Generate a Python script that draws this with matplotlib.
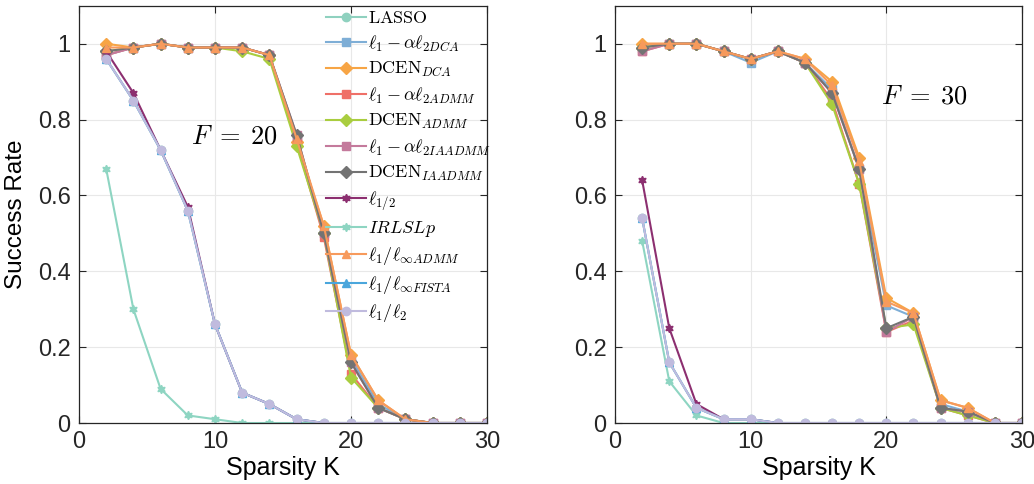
import matplotlib
matplotlib.use('Agg')
import matplotlib.pyplot as plt
import numpy as np

plt.rcParams['font.family'] = ['Liberation Sans', 'DejaVu Sans']
plt.rcParams['mathtext.fontset'] = 'cm'

K = np.arange(2, 31, 2)

labels = [r'$\mathrm{LASSO}$', r'$\ell_1-\alpha\ell_{2DCA}$', r'$\mathrm{DCEN}_{DCA}$',
          r'$\ell_1-\alpha\ell_{2ADMM}$', r'$\mathrm{DCEN}_{ADMM}$', r'$\ell_1-\alpha\ell_{2IAADMM}$',
          r'$\mathrm{DCEN}_{IAADMM}$', r'$\ell_{1/2}$', r'$IRLSLp$',
          r'$\ell_1/\ell_{\infty ADMM}$', r'$\ell_1/\ell_{\infty FISTA}$', r'$\ell_1/\ell_2$']
colors = ['#8fd1bf', '#7eaed6', '#f7a545', '#ef7068', '#a9cd3f', '#c47a9c',
          '#737373', '#8c2f70', '#8ed5c2', '#f79a5c', '#4aa6dc', '#c0bbde']
markers = ['o', 's', 'D', 's', 'D', 's', 'D', (6, 1, 0), (6, 1, 0), '^', '^', 'o']

# F = 20
f20_lasso = [0.96, 0.85, 0.72, 0.56, 0.26, 0.08, 0.05, 0.01, 0, 0, 0, 0, 0, 0, 0]
f20_l1l2dca = [0.97, 0.99, 1.0, 0.99, 0.99, 0.99, 0.97, 0.75, 0.50, 0.17, 0.05, 0.01, 0, 0, 0]
f20_dcendca = [1.0, 0.99, 1.0, 0.99, 0.99, 0.99, 0.97, 0.74, 0.52, 0.18, 0.06, 0.01, 0, 0, 0]
f20_l1l2admm = [0.97, 0.99, 1.0, 0.99, 0.99, 0.99, 0.97, 0.74, 0.49, 0.13, 0.04, 0.01, 0, 0, 0]
f20_dcenadmm = [0.98, 0.99, 1.0, 0.99, 0.99, 0.98, 0.96, 0.73, 0.50, 0.12, 0.04, 0.01, 0, 0, 0]
f20_l1l2iaadmm = [0.97, 0.99, 1.0, 0.99, 0.99, 0.99, 0.97, 0.76, 0.50, 0.16, 0.04, 0.01, 0, 0, 0]
f20_dceniaadmm = [0.98, 0.99, 1.0, 0.99, 0.99, 0.99, 0.97, 0.76, 0.50, 0.16, 0.04, 0.01, 0, 0, 0]
f20_lhalf = [0.98, 0.87, 0.72, 0.57, 0.26, 0.08, 0.05, 0.01, 0, 0, 0, 0, 0, 0, 0]
f20_irlslp = [0.67, 0.30, 0.09, 0.02, 0.01, 0, 0, 0, 0, 0, 0, 0, 0, 0, 0]
f20_linfadmm = [0.99, 0.99, 1.0, 0.99, 0.99, 0.99, 0.97, 0.75, 0.52, 0.18, 0.06, 0.01, 0, 0, 0]
f20_linffista = [0.96, 0.85, 0.72, 0.56, 0.26, 0.08, 0.05, 0.01, 0, 0, 0, 0, 0, 0, 0]
f20_l1overl2 = [0.96, 0.85, 0.72, 0.56, 0.26, 0.08, 0.05, 0.01, 0, 0, 0, 0, 0, 0, 0]

# F = 30
f30_lasso = [0.54, 0.16, 0.04, 0.01, 0.01, 0, 0, 0, 0, 0, 0, 0, 0, 0, 0]
f30_l1l2dca = [0.99, 1.0, 1.0, 0.98, 0.95, 0.98, 0.95, 0.88, 0.67, 0.31, 0.28, 0.05, 0.03, 0, 0]
f30_dcendca = [1.0, 1.0, 1.0, 0.98, 0.96, 0.98, 0.96, 0.90, 0.70, 0.33, 0.29, 0.06, 0.04, 0, 0]
f30_l1l2admm = [0.98, 1.0, 1.0, 0.98, 0.96, 0.98, 0.95, 0.85, 0.63, 0.24, 0.27, 0.04, 0.02, 0, 0]
f30_dcenadmm = [0.99, 1.0, 1.0, 0.98, 0.96, 0.98, 0.95, 0.84, 0.63, 0.25, 0.26, 0.04, 0.02, 0, 0]
f30_l1l2iaadmm = [0.98, 1.0, 1.0, 0.98, 0.96, 0.98, 0.95, 0.87, 0.67, 0.24, 0.28, 0.04, 0.03, 0, 0]
f30_dceniaadmm = [0.99, 1.0, 1.0, 0.98, 0.96, 0.98, 0.95, 0.87, 0.67, 0.25, 0.28, 0.04, 0.03, 0, 0]
f30_lhalf = [0.64, 0.25, 0.05, 0.01, 0.01, 0, 0, 0, 0, 0, 0, 0, 0, 0, 0]
f30_irlslp = [0.48, 0.11, 0.02, 0, 0, 0, 0, 0, 0, 0, 0, 0, 0, 0, 0]
f30_linfadmm = [1.0, 1.0, 1.0, 0.98, 0.96, 0.98, 0.96, 0.89, 0.69, 0.32, 0.29, 0.06, 0.04, 0, 0]
f30_linffista = [0.54, 0.16, 0.04, 0.01, 0.01, 0, 0, 0, 0, 0, 0, 0, 0, 0, 0]
f30_l1overl2 = [0.54, 0.16, 0.04, 0.01, 0.01, 0, 0, 0, 0, 0, 0, 0, 0, 0, 0]

f20 = [f20_lasso, f20_l1l2dca, f20_dcendca, f20_l1l2admm, f20_dcenadmm, f20_l1l2iaadmm,
       f20_dceniaadmm, f20_lhalf, f20_irlslp, f20_linfadmm, f20_linffista, f20_l1overl2]
f30 = [f30_lasso, f30_l1l2dca, f30_dcendca, f30_l1l2admm, f30_dcenadmm, f30_l1l2iaadmm,
       f30_dceniaadmm, f30_lhalf, f30_irlslp, f30_linfadmm, f30_linffista, f30_l1overl2]

fig = plt.figure(figsize=(10.34, 4.84), dpi=100)
ax1 = fig.add_axes([0.0764, 0.126, 0.3946, 0.862])
ax2 = fig.add_axes([0.5948, 0.126, 0.3936, 0.862])


def draw_panel(ax, data, title_xy, title):
    handles = []
    for i, y in enumerate(data):
        h, = ax.plot(K, y, color=colors[i], marker=markers[i], markersize=6,
                     markerfacecolor=colors[i], markeredgecolor=colors[i],
                     linewidth=1.5, label=labels[i], zorder=2 + i * 0.01)
        handles.append(h)
    ax.set_xlim(0, 30)
    ax.set_ylim(0, 1.1)
    ax.set_xticks([0, 10, 20, 30])
    ax.set_yticks([0, 0.2, 0.4, 0.6, 0.8, 1.0])
    ax.set_yticklabels(['0', '0.2', '0.4', '0.6', '0.8', '1'])
    ax.tick_params(direction='in', length=5, width=0.8, labelsize=17, colors='#262626',
                   top=True, right=True, pad=6)
    ax.grid(True, color='#e8e8e8', linewidth=0.8)
    ax.set_axisbelow(True)
    for s in ax.spines.values():
        s.set_color('#262626')
        s.set_linewidth(0.9)
    ax.set_xlabel('Sparsity K', fontsize=18, labelpad=2)
    ax.text(title_xy[0], title_xy[1], title, fontsize=19, ha='left', va='center')
    return handles


handles = draw_panel(ax1, f20, (8.2, 0.755), r'$F\;=\;20$')
draw_panel(ax2, f30, (19.6, 0.86), r'$F\;=\;30$')
ax1.set_ylabel('Success Rate', fontsize=17.5, labelpad=8)

fig.legend(handles=handles, loc='upper left', bbox_to_anchor=(326 / 1034, 1 - 10 / 484),
           frameon=False, fontsize=13, borderaxespad=0, borderpad=0,
           labelspacing=0.36, handlelength=2.2, handletextpad=0.15)

fig.savefig('out.png', dpi=100)
